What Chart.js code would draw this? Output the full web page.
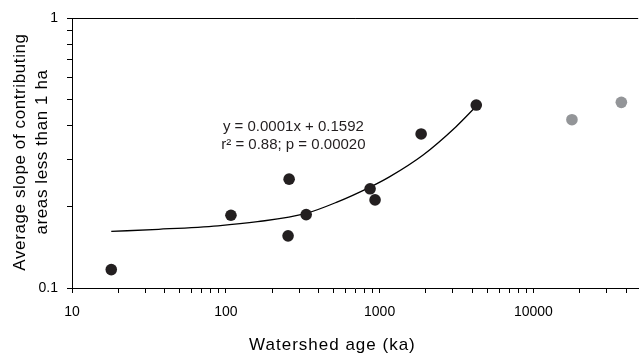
<!DOCTYPE html>
<html>
<head>
<meta charset="utf-8">
<script src="https://cdn.jsdelivr.net/npm/chart.js@4.4.0/dist/chart.umd.min.js"></script>
<style>
html, body { margin: 0; padding: 0; background: #fff; overflow: hidden; }
</style>
</head>
<body>
<canvas id="grafico" width="644" height="354"></canvas>
<script>
// idades das bacias (ka) e declive medio
const idades = [18, 108, 258, 254, 333, 867, 934, 1862, 4250];
const declives = [0.117, 0.186, 0.253, 0.156, 0.187, 0.233, 0.212, 0.372, 0.476];
const idadesCinza = [17800, 37300];
const declivesCinza = [0.42, 0.487];
// curva de tendencia tracada a partir da figura
const curvaX = [18, 36.6, 89, 161, 333, 528, 861, 1158, 1918, 3128, 4200];
const curvaY = [0.162, 0.165, 0.170, 0.176, 0.189, 0.208, 0.236, 0.258, 0.311, 0.395, 0.468];
const xTickLabels = [10, 100, 1000, 10000];
const yTickLabels = [0.1, 1];
const tituloX = 'Watershed age (ka)';
const tituloY = ['Average slope of contributing', 'areas less than 1 ha'];
const equacao = ['y = 0.0001x + 0.1592', 'r\u00b2 = 0.88; p = 0.00020'];

Chart.defaults.font.family = "'Liberation Sans', Arial, sans-serif";
Chart.defaults.color = '#000';

function temRotulo(lista, v) {
    return lista.some(l => Math.abs(l - v) / l < 1e-6);
}

function soInteiros(scale) {
    scale.ticks = scale.ticks.filter(t => {
        const m = t.value / Math.pow(10, Math.floor(Math.log10(t.value) + 1e-9));
        return Math.abs(m - Math.round(m)) < 1e-6;
    });
}

const extras = {
    id: 'extras',
    afterDraw(chart) {
        const { ctx, chartArea, scales } = chart;
        ctx.save();
        // moldura de cima
        ctx.strokeStyle = '#000';
        ctx.lineWidth = 1;
        ctx.beginPath();
        ctx.moveTo(chartArea.left, Math.round(chartArea.top) + 0.5);
        ctx.lineTo(chartArea.right, Math.round(chartArea.top) + 0.5);
        ctx.stroke();

        // equacao da regressao
        ctx.fillStyle = '#231f20';
        ctx.font = "15px 'Liberation Sans', Arial, sans-serif";
        ctx.textAlign = 'center';
        ctx.textBaseline = 'middle';
        const tx = scales.x.getPixelForValue(275);
        ctx.fillText(equacao[0], tx, scales.y.getPixelForValue(0.396));
        ctx.fillText(equacao[1], tx, scales.y.getPixelForValue(0.339));

        // titulos dos eixos
        ctx.fillStyle = '#000';
        ctx.font = "17px 'Liberation Sans', Arial, sans-serif";
        ctx.letterSpacing = '1px';
        ctx.fillText(tituloX, chartArea.left + (chartArea.right - chartArea.left) * 0.46, scales.x.bottom - 9);

        ctx.letterSpacing = '0.6px';
        ctx.translate(0, (chartArea.top + chartArea.bottom) / 2 - 1);
        ctx.rotate(-Math.PI / 2);
        ctx.fillText(tituloY[0], 0, 20);
        ctx.fillText(tituloY[1], 0, 42);
        ctx.restore();
    }
};

const ctx = document.getElementById('grafico').getContext('2d');
new Chart(ctx, {
    data: {
        datasets: [{
            type: 'line',
            data: curvaX.map((x, i) => ({ x: x, y: curvaY[i] })),
            borderColor: '#000',
            borderWidth: 1.3,
            pointRadius: 0,
            cubicInterpolationMode: 'monotone',
            order: 2
        }, {
            type: 'scatter',
            data: idades.map((x, i) => ({ x: x, y: declives[i] })),
            backgroundColor: '#231f20',
            borderWidth: 0,
            pointRadius: 5.8,
            order: 1
        }, {
            type: 'scatter',
            data: idadesCinza.map((x, i) => ({ x: x, y: declivesCinza[i] })),
            backgroundColor: '#939598',
            borderWidth: 0,
            pointRadius: 5.8,
            order: 1
        }]
    },
    options: {
        responsive: false,
        animation: false,
        layout: { padding: { top: 18, right: 0, left: 0, bottom: 0 } },
        plugins: { legend: { display: false }, tooltip: { enabled: false } },
        scales: {
            x: {
                type: 'logarithmic',
                position: 'bottom',
                min: 10,
                max: 48000,
                afterBuildTicks: soInteiros,
                afterFit(s) { s.height = 66; },
                border: { display: true, color: '#000', width: 1 },
                grid: { drawOnChartArea: false, drawTicks: true, tickLength: 5, color: '#000' },
                ticks: {
                    autoSkip: false,
                    maxRotation: 0,
                    padding: 11,
                    font: { size: 14 },
                    callback: v => temRotulo(xTickLabels, v) ? String(v) : ''
                }
            },
            y: {
                type: 'logarithmic',
                min: 0.1,
                max: 1,
                afterBuildTicks: soInteiros,
                afterFit(s) { s.width = 72; },
                border: { display: true, color: '#000', width: 1 },
                grid: { drawOnChartArea: false, drawTicks: true, tickLength: 5, color: '#000' },
                ticks: {
                    autoSkip: false,
                    padding: 9,
                    font: { size: 14 },
                    callback: v => temRotulo(yTickLabels, v) ? String(v) : ''
                }
            }
        }
    },
    plugins: [extras]
});
</script>
</body>
</html>
